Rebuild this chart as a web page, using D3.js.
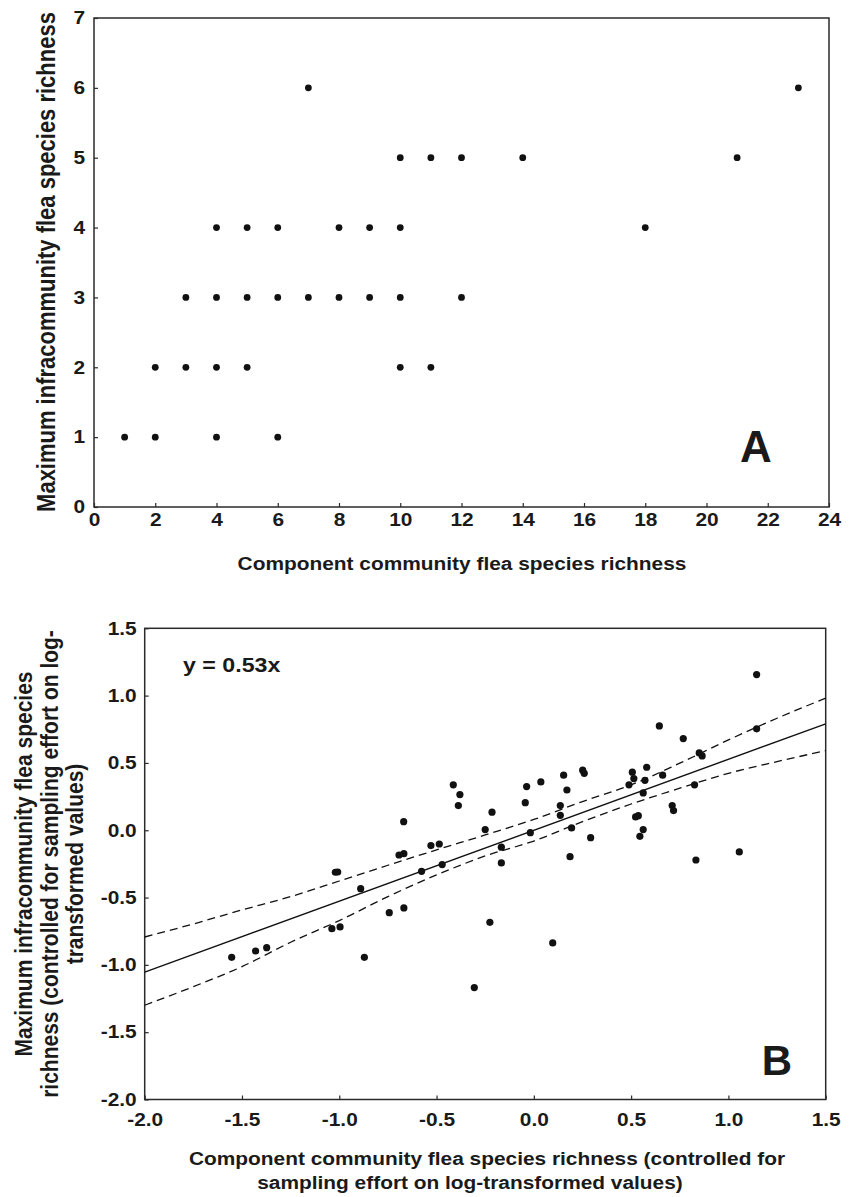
<!DOCTYPE html>
<html lang="en">
<head>
    <meta charset="UTF-8">
    <title>Flea species richness</title>
    <script src="https://d3js.org/d3.v7.min.js"></script>
    <style>
        body {
            margin: 0;
            background: #fff;
        }

        svg text {
            font-family: "Liberation Sans", Arial, sans-serif;
            font-weight: bold;
            fill: #1a1a1a;
        }

        .frame {
            fill: none;
            stroke: #2a2a2a;
            stroke-width: 1.5px;
        }

        .tick line {
            stroke: #2a2a2a;
            stroke-width: 1.2px;
        }

        .dot {
            fill: #111;
        }

        .fit {
            fill: none;
            stroke: #111;
            stroke-width: 1.4px;
        }

        .band {
            fill: none;
            stroke: #111;
            stroke-width: 1.3px;
            stroke-dasharray: 8, 5;
        }
    </style>
</head>
<body>
<svg width="856" height="1197"></svg>
<script>
    // panel A: component (x) vs maximum infracommunity (y) richness
    const aX = [1, 2, 4, 6,
        2, 3, 4, 5, 10, 11,
        3, 4, 5, 6, 7, 8, 9, 10, 12,
        4, 5, 6, 8, 9, 10, 18,
        10, 11, 12, 14, 21,
        7, 23];
    const aY = [1, 1, 1, 1,
        2, 2, 2, 2, 2, 2,
        3, 3, 3, 3, 3, 3, 3, 3, 3,
        4, 4, 4, 4, 4, 4, 4,
        5, 5, 5, 5, 5,
        6, 6];
    const aXTicks = d3.range(0, 25, 2);
    const aYTicks = [0, 1, 2, 3, 4, 5, 6, 7];

    // panel B: residuals controlled for sampling effort
    const bX = [-1.553, -1.430, -1.373, -1.038, -0.996, -1.020, -1.008, -0.890, -0.871, -0.743,
        -0.668, -0.693, -0.668, -0.577, -0.529, -0.486, -0.471, -0.306, -0.226, -0.167,
        -0.167, 0.097, -0.669, -0.414, -0.380, -0.388, -0.215, -0.250, -0.037, -0.044,
        0.036, -0.018, 0.136, 0.136, 0.153, 0.170, 0.194, 0.186, 0.251, 0.259,
        0.292, 0.489, 0.506, 0.514, 0.562, 0.571, 0.580, 0.523, 0.537, 0.562,
        0.545, 0.645, 0.662, 0.711, 0.718, 0.768, 0.826, 0.833, 0.850, 0.865,
        1.056, 1.145, 1.145];
    const bY = [-0.944, -0.897, -0.872, -0.731, -0.718, -0.312, -0.310, -0.434, -0.944, -0.612,
        -0.577, -0.184, -0.174, -0.305, -0.114, -0.102, -0.255, -1.169, -0.684, -0.126,
        -0.243, -0.837, 0.064, 0.337, 0.265, 0.183, 0.134, 0.005, 0.324, 0.205,
        0.359, -0.018, 0.183, 0.111, 0.409, 0.299, 0.017, -0.196, 0.446, 0.423,
        -0.055, 0.337, 0.431, 0.384, 0.277, 0.371, 0.468, 0.099, 0.108, 0.005,
        -0.045, 0.775, 0.409, 0.183, 0.146, 0.681, 0.337, -0.221, 0.574, 0.552,
        -0.161, 1.156, 0.753];
    const bTicksX = [-2.0, -1.5, -1.0, -0.5, 0.0, 0.5, 1.0, 1.5];
    const bTicksY = [-2.0, -1.5, -1.0, -0.5, 0.0, 0.5, 1.0, 1.5];

    // regression y = 0.53x and its confidence limits
    const fitSlope = 0.527;
    const fitRange = [-2.0, 1.5];
    const bandX = [-2.0, -1.75, -1.5, -1.25, -1.0, -0.75, -0.5, -0.25, 0.0, 0.25, 0.5, 0.75, 1.0, 1.25, 1.5];
    const bandUpper = [-0.793, -0.696, -0.592, -0.493, -0.377, -0.260, -0.146, -0.035, 0.080, 0.213, 0.337, 0.498, 0.671, 0.832, 0.981];
    const bandLower = [-1.300, -1.162, -1.013, -0.832, -0.671, -0.493, -0.332, -0.191, -0.080, 0.064, 0.195, 0.312, 0.423, 0.510, 0.591];

    const svg = d3.select("svg");
    const stretch = 1.16; // the figure is widened a little

    function label(g, str, x, y, size, opts = {}) {
        const rot = opts.rotate ? " rotate(-90)" : "";
        const sx = opts.noStretch ? 1 : stretch;
        return g.append("text")
            .attr("transform", `translate(${x},${y}) scale(${sx},1)${rot}`)
            .attr("text-anchor", opts.anchor || "middle")
            .style("font-size", size + "px")
            .text(str);
    }

    function drawAxes(g, x, y, xTicks, yTicks, fmt, xPad, yPad) {
        const [x0, x1] = x.range();
        const [y0, y1] = y.range();

        const bottom = g.append("g")
            .attr("transform", `translate(0,${y0})`)
            .call(d3.axisBottom(x).tickValues(xTicks).tickFormat(fmt).tickSize(-4).tickPadding(xPad));
        const left = g.append("g")
            .attr("transform", `translate(${x0},0)`)
            .call(d3.axisLeft(y).tickValues(yTicks).tickFormat(fmt).tickSize(-4).tickPadding(yPad));

        [bottom, left].forEach(a => {
            a.select(".domain").remove();
            a.selectAll("text")
                .style("font-size", "18px")
                .style("font-family", null)
                .attr("fill", null);
        });
        bottom.selectAll("text").attr("transform", `scale(${stretch},1)`);
        left.selectAll("text")
            .attr("x", -yPad / stretch)
            .attr("transform", `scale(${stretch},1)`);

        g.append("rect")
            .attr("class", "frame")
            .attr("x", x0).attr("y", y1)
            .attr("width", x1 - x0).attr("height", y0 - y1);
    }

    // ---------- panel A ----------
    const gA = svg.append("g");
    const xA = d3.scaleLinear().domain([0, 24]).range([94, 829]);
    const yA = d3.scaleLinear().domain([0, 7]).range([507, 18]);

    drawAxes(gA, xA, yA, aXTicks, aYTicks, d => d, 6, 9);

    gA.selectAll("circle")
        .data(d3.range(aX.length))
        .join("circle")
        .attr("class", "dot")
        .attr("cx", i => xA(aX[i]))
        .attr("cy", i => yA(aY[i]))
        .attr("r", 3.4);

    label(gA, "Component community flea species richness", 462, 570, 18);
    label(gA, "Maximum infracommunity flea species richness", 55, 262, 22, {rotate: true});
    label(gA, "A", 756, 462, 44, {noStretch: true});

    // ---------- panel B ----------
    const gB = svg.append("g");
    const xB = d3.scaleLinear().domain([-2, 1.5]).range([144.7, 825.7]);
    const yB = d3.scaleLinear().domain([-2, 1.5]).range([1099.5, 628.3]);

    drawAxes(gB, xB, yB, bTicksX, bTicksY, d => d.toFixed(1), 14, 8);

    const bandLine = d3.line()
        .x(d => xB(d[0]))
        .y(d => yB(d[1]))
        .curve(d3.curveMonotoneX);

    gB.append("path")
        .attr("class", "band")
        .attr("d", bandLine(bandX.map((v, i) => [v, bandUpper[i]])));
    gB.append("path")
        .attr("class", "band")
        .attr("d", bandLine(bandX.map((v, i) => [v, bandLower[i]])));

    gB.append("line")
        .attr("class", "fit")
        .attr("x1", xB(fitRange[0]))
        .attr("y1", yB(fitRange[0] * fitSlope))
        .attr("x2", xB(fitRange[1]))
        .attr("y2", yB(fitRange[1] * fitSlope));

    gB.selectAll("circle")
        .data(d3.range(bX.length))
        .join("circle")
        .attr("class", "dot")
        .attr("cx", i => xB(bX[i]))
        .attr("cy", i => yB(bY[i]))
        .attr("r", 3.6);

    label(gB, "y = 0.53x", 183, 672, 20, {anchor: "start"});
    label(gB, "B", 777, 1075, 42, {noStretch: true});

    label(gB, "Component community flea species richness (controlled for", 487, 1165, 18);
    label(gB, "sampling effort on log-transformed values)", 470, 1189, 18);

    label(gB, "Maximum infracommunity flea species", 32, 864, 21, {rotate: true});
    label(gB, "richness (controlled for sampling effort on log-", 58, 864, 21, {rotate: true});
    label(gB, "transformed values)", 83, 864, 21, {rotate: true});
</script>
</body>
</html>
